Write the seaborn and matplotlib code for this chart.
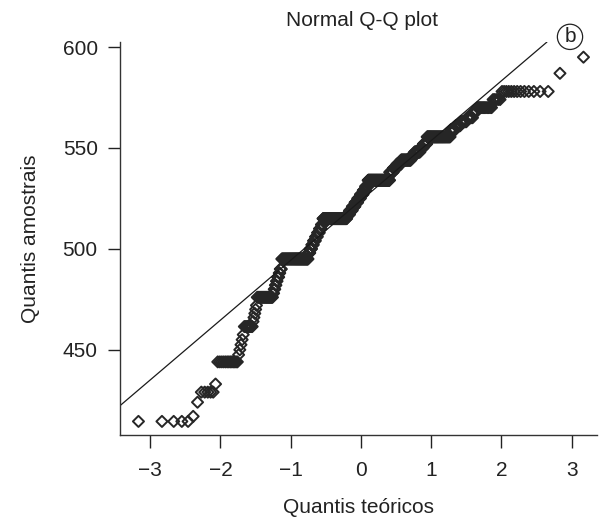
from statistics import NormalDist

import matplotlib
matplotlib.use('Agg')
import matplotlib.pyplot as plt
import numpy as np
import pandas as pd
import seaborn as sns

# sample score levels (sorted) and how many observations sit at each level
levels = [414.5, 417, 424, 429, 433,
          444, 447.5, 450, 452.5, 455, 457.5,
          461.5, 464, 466, 468, 470, 472,
          476, 478, 480, 482, 484, 486, 488, 490,
          495, 498, 500, 502, 504, 506, 508, 510, 512,
          515, 517, 519, 521, 523, 525, 527, 529, 531,
          534, 538, 540, 542, 544, 546, 548, 550, 552,
          555.5, 559, 561, 563, 565, 568, 570, 574,
          578, 587, 595]
counts = [5, 1, 1, 5, 1,
          13, 1, 1, 1, 1, 1,
          9, 1, 1, 1, 1, 1,
          23, 2, 2, 2, 2, 3, 2, 3,
          63, 5, 5, 5, 6, 6, 6, 6, 5,
          82, 10, 10, 10, 10, 10, 10, 9, 9,
          77, 12, 12, 13, 30, 10, 15, 8, 9,
          47, 8, 7, 8, 7, 4, 12, 5,
          13, 1, 1]

x_ticks = [-3, -2, -1, 0, 1, 2, 3]
y_ticks = [450, 500, 550, 600]

title = 'Normal Q-Q plot'
x_label = 'Quantis teóricos'
y_label = 'Quantis amostrais'
panel_tag = 'b'

# build the sample and its theoretical normal quantiles (R ppoints rule)
sample = np.repeat(levels, counts)
n = len(sample)
nd = NormalDist()
theo = np.array([nd.inv_cdf((i - 0.5) / n) for i in range(1, n + 1)])
df = pd.DataFrame({'teorico': theo, 'amostra': sample})

# reference line through the quartiles, like qqline
q1, q3 = np.percentile(sample, [25, 75])
z1, z3 = nd.inv_cdf(0.25), nd.inv_cdf(0.75)
slope = (q3 - q1) / (z3 - z1)
intercept = q1 - slope * z1

sns.set_theme(style='ticks')
plt.rcParams['font.family'] = ['Liberation Sans', 'DejaVu Sans']
plt.rcParams['axes.unicode_minus'] = True

fig = plt.figure(figsize=(6.0, 5.19), dpi=100)
ax = fig.add_axes([0.2, 0.162, 0.795, 0.757])

sns.scatterplot(data=df, x='teorico', y='amostra', ax=ax, marker='D',
                s=32, facecolor='none', edgecolor='#262626', linewidth=1.4,
                legend=False)
ax.axline((0, intercept), slope=slope, color='#1a1a1a', linewidth=0.9)

ax.set_xlim(-3.43, 3.36)
ax.set_ylim(407.8, 602.5)
ax.set_xticks(x_ticks)
ax.set_yticks(y_ticks)
ax.tick_params(axis='both', direction='out', length=9, width=1.0,
               labelsize=15, colors='#222222', pad=7)
ax.tick_params(axis='x', pad=10)
sns.despine(ax=ax)
for side in ['left', 'bottom']:
    ax.spines[side].set_color('#333333')
    ax.spines[side].set_linewidth(1.0)

ax.set_xlabel(x_label, fontsize=15, color='#222222', labelpad=13)
ax.set_ylabel(y_label, fontsize=15, color='#222222', labelpad=16)
fig.text(0.603, 0.961, title, ha='center', va='center', fontsize=15,
         color='#222222')
fig.text(0.95, 0.929, panel_tag, ha='center', va='center', fontsize=15,
         color='#222222',
         bbox=dict(boxstyle='circle,pad=0.15', facecolor='white',
                   edgecolor='#222222', linewidth=0.9))

fig.savefig('out.png', dpi=100)
